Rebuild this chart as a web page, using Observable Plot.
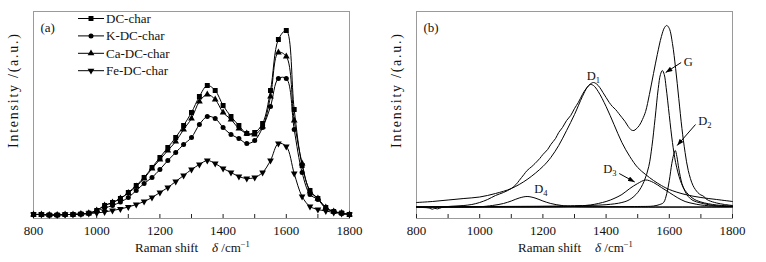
<!DOCTYPE html>
<html><head><meta charset="utf-8">
<script src="https://cdn.jsdelivr.net/npm/d3@7"></script>
<script src="https://cdn.jsdelivr.net/npm/@observablehq/plot@0.6"></script>
<style>
html,body{margin:0;padding:0;background:#fff;}
#wrap{position:relative;width:766px;height:262px;display:flex;}
#wrap svg{display:block;}
#legend{position:absolute;left:0;top:0;pointer-events:none;}
</style></head><body><div id="wrap"></div>
<script>
// ---------- shared axis data ----------
const tickValues = [800,900,1000,1100,1200,1300,1400,1500,1600,1700,1800];
const labelTicks = [800,1000,1200,1400,1600,1800];

// ---------- panel (a) data ----------
const seriesNames = ["DC-char","K-DC-char","Ca-DC-char","Fe-DC-char"];
const ramanShift = [800,825,850,875,900,925,950,975,1000,1025,1050,1075,1100,1125,1150,1175,1200,1225,1250,1275,1300,1325,1350,1375,1400,1425,1450,1475,1500,1525,1550,1575,1600,1625,1650,1675,1700,1725,1750,1775,1800];
const dcChar = [5,5,4.5,4.5,5,5,5.5,6.3,9,14,17,21,27,34,42,52,62,72,82,94,107,123,134,129,114,103,94,86,87,96,129,180,189,110,54,29,21,12,8,6.5,5];
const kDcChar = [5,5,4.5,4.5,5,5,5.5,6.3,8.5,11.5,14,17.5,22,29,36,42,50,59,67,75,82,95,103,101,92,85,81,76,79,92,113,141,141,90,47,25,20,11,8,6,5];
const caDcChar = [5,5,4.5,4.5,5,5,5.5,6.3,9,14,17,21,26.5,33,41,51,60,69,78,90,101,118,125,120,107,100,91,86,85,93,123,167,163,99,56,28,21,12,8,6.5,5];
const feDcChar = [5,5,4.5,4.5,5,5,5.5,6,6.5,7.5,9,10.5,12.5,15,18,22,27,32,38,44,50,55,59,56,51,47,43,41,42,47,59,76,73,46,23,13,10,8.5,7,6,5];

// ---------- panel (b) data ----------
const spectrumShift = [800,820,840,850,858,866,880,900,925,950,975,1000,1025,1050,1075,1100,1115,1125,1140,1150,1165,1175,1190,1200,1215,1225,1240,1250,1262,1275,1288,1300,1312,1325,1337,1350,1360,1370,1380,1390,1400,1410,1420,1430,1440,1450,1460,1470,1480,1488,1495,1505,1515,1525,1537,1550,1562,1575,1585,1592,1600,1610,1620,1630,1640,1650,1660,1675,1690,1700,1708,1715,1725,1750,1775,1800];
const spectrumIntensity = [11.3,11,10.5,9.3,10.2,9.6,11,12,12.5,13,14,16,19,23,26,30,34,38,44,48,52,55,60,64,69,74,80,86,91,98,103,110,116,124,130,134.5,136,134.5,131,126,121,116,112,109,105,101,97,92,88.5,88,89.5,93,99,107,124,145,164,182,191,193,190,175,150,120,90,66,48,33,26,23.5,22.5,20,18,15.5,14,13];
const d1Shift = [800,850,900,950,1000,1050,1100,1150,1200,1225,1250,1275,1300,1325,1340,1350,1360,1375,1400,1425,1450,1475,1500,1525,1550,1575,1600,1650,1700,1750,1800];
const d1Intensity = [16,17,18.5,20,21.5,25,30,39,52,61,73,88,104,122,131,134,133,127,112,94,76,62,51,44,38,33,29,24,21,19,17];
const d2Shift = [800,1500,1550,1570,1582,1592,1600,1608,1614,1619,1624,1630,1640,1650,1660,1675,1700,1740,1800];
const d2Intensity = [11.5,12,12.5,14,16,25,38,55,64,68,62,50,35,27,22,18,15.5,13,12];
const d3Shift = [800,1250,1300,1350,1400,1425,1450,1475,1500,1525,1550,1575,1600,1625,1650,1675,1700,1750,1800];
const d3Intensity = [11.5,11.8,12.3,13.5,17,20,24,30,35,38.5,36,31,26,21,17,15,13.5,12.3,12];
const d4Shift = [800,1000,1040,1075,1100,1125,1150,1175,1200,1225,1260,1300,1800];
const d4Intensity = [11.5,11.8,13,15,17.5,20.5,22,20.5,17.5,15,13,12,11.5];
const gShift = [800,1200,1300,1400,1450,1475,1500,1520,1535,1545,1555,1565,1572,1578,1584,1590,1600,1610,1620,1635,1650,1675,1700,1750,1800];
const gIntensity = [11.8,12.3,12.8,13.8,16,19,26,37,52,72,100,130,144,148,144,131,103,76,56,38,28,20,16.5,13.5,12.5];
const baselineShift = [800,1800];
const baselineIntensity = [11.5,11.5];

const bandLabel = ["D","D","D","D","G"];
const bandSub = ["1","2","3","4",""];
const bandLabelShift = [1339,1692,1391,1173,1646];
const bandLabelIntensity = [143,98,50,30,157];
const arrowFromShift = [1637.6,1683,1441.5];
const arrowFromIntensity = [156,94,45];
const arrowToShift = [1588.6,1625,1490.5];
const arrowToIntensity = [146,73,36.5];

// ---------- build ----------
const font = "'Liberation Serif','Times New Roman',serif";
const layout = {width: 383, height: 262, marginTop: 11, marginBottom: 44, marginLeft: 33, marginRight: 34};
const style = {fontFamily: font, fontSize: "13px", background: "white", color: "black", overflow: "visible"};

function common(letter) {
  return [
    Plot.frame({stroke: "#9a9a9a", strokeWidth: 1}),
    Plot.tickX(tickValues, {x: d => d, insetTop: 203, stroke: "#222", strokeWidth: 1}),
    Plot.axisX(labelTicks, {anchor: "bottom", tickSize: 0, tickPadding: 7, fontSize: 13, label: null, fill: "#111", tickFormat: d => String(d)}),
    Plot.text(["Intensity /(a.u.)"], {text: d => d, frameAnchor: "left", dx: -20, dy: -24, rotate: -90, textAnchor: "middle", lineAnchor: "middle", fontSize: 14, fill: "#111"}),
    Plot.text([letter], {text: d => d, frameAnchor: "top-left", dx: 7, dy: 16, textAnchor: "start", lineAnchor: "middle", fontSize: 13, fill: "#111"})
  ];
}

function decorate(svg) {
  const s = d3.select(svg);
  s.selectAll("text").filter(function() { return this.textContent === "Intensity /(a.u.)"; })
    .attr("textLength", 114).attr("lengthAdjust", "spacing");
  const t = s.append("text").attr("y", 252).attr("font-size", 13).attr("fill", "#111").attr("text-anchor", "start");
  t.append("tspan").attr("x", 135).text("Raman shift");
  t.append("tspan").attr("x", 212).attr("font-style", "italic").text("δ");
  t.append("tspan").text(" /cm");
  t.append("tspan").attr("dy", -5).attr("font-size", 8.5).text("−1");
}

// panel (a)
const seriesValues = [dcChar, kDcChar, caDcChar, feDcChar];
const rowsA = [];
seriesNames.forEach((name, k) => ramanShift.forEach((x, i) => rowsA.push({series: name, x, y: seriesValues[k][i]})));
const symbolSpec = {
  "DC-char": {symbol: "square", r: 2.8, rotate: 0},
  "K-DC-char": {symbol: "circle", r: 2.5, rotate: 0},
  "Ca-DC-char": {symbol: "triangle", r: 2.5, rotate: 0},
  "Fe-DC-char": {symbol: "triangle", r: 2.5, rotate: 180}
};

const plotA = Plot.plot({
  ...layout, style,
  x: {domain: [800, 1800], label: null},
  y: {domain: [1, 208], axis: null},
  marks: [
    ...common("(a)"),
    Plot.line(rowsA, {x: "x", y: "y", z: "series", curve: "catmull-rom", stroke: "black", strokeWidth: 1}),
    ...seriesNames.map(name => Plot.dot(rowsA.filter(d => d.series === name), {
      x: "x", y: "y", fill: "black", stroke: "none", ...symbolSpec[name]
    }))
  ]
});
decorate(plotA);

// panel (b)
const curvesB = [
  [spectrumShift, spectrumIntensity],
  [d1Shift, d1Intensity],
  [d2Shift, d2Intensity],
  [d3Shift, d3Intensity],
  [d4Shift, d4Intensity],
  [gShift, gIntensity],
  [baselineShift, baselineIntensity]
];
const rowsB = [];
curvesB.forEach(([xs, ys], k) => xs.forEach((x, i) => rowsB.push({curve: k, x, y: ys[i]})));
const labelsB = bandLabel.map((t, i) => ({t, sub: bandSub[i], x: bandLabelShift[i], y: bandLabelIntensity[i]}));
const arrowsB = arrowFromShift.map((x, i) => ({x1: x, y1: arrowFromIntensity[i], x2: arrowToShift[i], y2: arrowToIntensity[i]}));

const plotB = Plot.plot({
  ...layout, style,
  x: {domain: [800, 1800], label: null},
  y: {domain: [0, 207], axis: null},
  marks: [
    ...common("(b)"),
    Plot.line(rowsB, {x: "x", y: "y", z: "curve", curve: "catmull-rom", stroke: "black", strokeWidth: 1}),
    Plot.link(arrowsB, {x1: "x1", y1: "y1", x2: "x2", y2: "y2", stroke: "black", strokeWidth: 1}),
    Plot.text(labelsB, {x: "x", y: "y", text: "t", textAnchor: "start", lineAnchor: "middle", fontSize: 12.5, fill: "#111"}),
    Plot.text(labelsB, {x: "x", y: "y", text: "sub", textAnchor: "start", lineAnchor: "middle", dx: 9, dy: 5, fontSize: 8.5, fill: "#111"})
  ]
});
decorate(plotB);
{
  const s = d3.select(plotB);
  s.append("defs").append("marker")
    .attr("id", "ahead").attr("viewBox", "0 0 8 6").attr("refX", 8).attr("refY", 3)
    .attr("markerWidth", 7).attr("markerHeight", 5).attr("markerUnits", "userSpaceOnUse").attr("orient", "auto")
    .append("path").attr("d", "M0,0L8,3L0,6Z").attr("fill", "black");
  s.selectAll('g[aria-label="link"] path').attr("marker-end", "url(#ahead)");
}

const wrap = document.getElementById("wrap");
wrap.appendChild(plotA);
wrap.appendChild(plotB);

// legend overlay for panel (a)
const leg = d3.select(wrap).append("svg").attr("id", "legend").attr("width", 383).attr("height", 90)
  .style("font-family", font);
seriesNames.forEach((name, i) => {
  const y = 18.5 + i * 17.4;
  const spec = symbolSpec[name];
  const g = leg.append("g");
  g.append("line").attr("x1", 78).attr("x2", 104).attr("y1", y).attr("y2", y).attr("stroke", "black").attr("stroke-width", 1);
  const type = spec.symbol === "square" ? d3.symbolSquare : spec.symbol === "circle" ? d3.symbolCircle : d3.symbolTriangle;
  g.append("path").attr("d", d3.symbol(type, Math.PI * spec.r * spec.r)())
    .attr("transform", `translate(91,${y}) rotate(${spec.rotate})`).attr("fill", "black");
  g.append("text").attr("x", 106).attr("y", y).attr("dy", "0.35em").attr("font-size", 13).attr("fill", "#111").text(name);
});
</script>
</body></html>
